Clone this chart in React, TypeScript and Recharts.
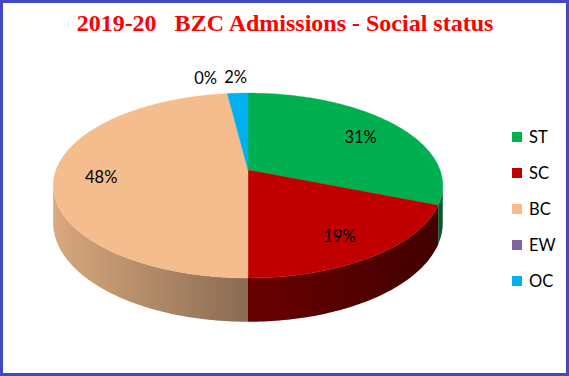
import React from 'react';
import { PieChart, Pie, Cell, Legend } from 'recharts';

const categories = ['ST', 'SC', 'BC', 'EW', 'OC'];
const shares = [31, 19, 48, 0, 2];
const topColors = ['#00B050', '#C00000', '#F5BD8D', '#8064A2', '#00B0F0'];
const wallColors = ['#005E2A', 'url(#wallSC)', 'url(#wallBC)', '#44345A', '#00607F'];
const titleText = '2019-20   BZC Admissions - Social status';

const data = categories.map((name, i) => ({ name, value: shares[i] }));

const TILT = 0.468;
const PERSP = 0.1676;
const DEPTH = 0.19;
const RAD = Math.PI / 180;

function proj(cx: number, cy: number, R: number, deg: number, f: number, h: number) {
  const s = Math.sin(deg * RAD);
  const c = Math.cos(deg * RAD);
  const z = 1 + PERSP * f * s;
  return [cx + (R * f * c) / z, cy - (R * TILT * f * s) / z + (h * R * DEPTH) / z];
}

function arc(cx: number, cy: number, R: number, a: number, b: number, h: number) {
  const n = Math.max(2, Math.ceil(Math.abs(b - a)));
  const pts: number[][] = [];
  for (let i = 0; i <= n; i++) pts.push(proj(cx, cy, R, a + ((b - a) * i) / n, 1, h));
  return pts;
}

const ptsStr = (pts: number[][]) => pts.map((q) => `${q[0].toFixed(2)},${q[1].toFixed(2)}`).join('L');

const TopSlice = (p: any) => {
  const { cx, cy, outerRadius, startAngle, endAngle, fill } = p;
  if (Math.abs(endAngle - startAngle) < 1e-6) return <g />;
  const pts = arc(cx, cy, outerRadius, startAngle, endAngle, 0);
  const d = `M${cx},${cy}L${ptsStr(pts)}Z`;
  return <path d={d} fill={fill} stroke={fill} strokeWidth={0.4} />;
};

const VS = Math.asin(PERSP) / RAD;

const WallSlice = (p: any) => {
  const { cx, cy, outerRadius, startAngle, endAngle, fill } = p;
  const lo = Math.min(startAngle, endAngle);
  const hi = Math.max(startAngle, endAngle);
  const paths: string[] = [];
  for (let k = -2; k <= 2; k++) {
    const a = Math.max(lo, -180 + VS + 360 * k);
    const b = Math.min(hi, -VS + 360 * k);
    if (b - a > 1e-6) {
      const top = arc(cx, cy, outerRadius, a, b, 0);
      const bot = arc(cx, cy, outerRadius, b, a, 1);
      paths.push(`M${ptsStr(top)}L${ptsStr(bot)}Z`);
    }
  }
  if (!paths.length) return <g />;
  return <path d={paths.join('')} fill={fill} stroke="none" />;
};

const total = shares.reduce((s, v) => s + v, 0);

const renderLabel = (p: any) => {
  const { cx, cy, outerRadius, midAngle, percent, index, endAngle } = p;
  const small = percent < 0.05;
  const f = small ? 1.25 : 0.76;
  let [x, y] = proj(cx, cy, outerRadius, midAngle, f, 0);
  if (!small) y += 3;
  if (small && index + 1 < shares.length && shares[index + 1] / total < 0.05) {
    const nextMid = endAngle - (360 * shares[index + 1]) / total / 2;
    const [nx] = proj(cx, cy, outerRadius, nextMid, f, 0);
    x = Math.min(x, nx - 30);
  }
  return (
    <text
      x={x}
      y={y}
      textAnchor="middle"
      dominantBaseline="central"
      fontFamily="Lato, 'Noto Sans', sans-serif"
      fontSize={16.5}
      fill="#000"
    >
      {`${Math.round(percent * 100)}%`}
    </text>
  );
};

const renderLegend = (props: any) => {
  const items = (props.payload || [])
    .filter((e: any) => e.type !== 'none')
    .slice()
    .sort((a: any, b: any) => categories.indexOf(a.value) - categories.indexOf(b.value));
  return (
    <div>
      {items.map((e: any, i: number) => (
        <div key={i} style={{ display: 'flex', alignItems: 'center', height: 36 }}>
          <span style={{ display: 'inline-block', width: 10, height: 10, background: e.color, marginRight: 7 }} />
          <span style={{ fontFamily: 'Lato, sans-serif', fontSize: 16.5, color: '#000', lineHeight: '20px' }}>
            {e.value}
          </span>
        </div>
      ))}
    </div>
  );
};

export default function App() {
  return (
    <div style={{ position: 'fixed', top: 0, left: 0, width: 569, height: 376, background: '#fff', overflow: 'hidden' }}>
      <svg width={0} height={0} style={{ position: 'absolute' }}>
        <defs>
          <linearGradient id="wallBC" x1="0" y1="0" x2="1" y2="0">
            <stop offset="0%" stopColor="#D9A87E" />
            <stop offset="100%" stopColor="#8A6B53" />
          </linearGradient>
          <linearGradient id="wallSC" x1="0" y1="0" x2="1" y2="0">
            <stop offset="0%" stopColor="#6A0000" />
            <stop offset="100%" stopColor="#420000" />
          </linearGradient>
        </defs>
      </svg>
      <div style={{ position: 'absolute', top: 0, left: 0 }}>
        <PieChart width={569} height={376} margin={{ top: 0, right: 0, bottom: 0, left: 0 }}>
          <Pie
            data={data}
            dataKey="value"
            nameKey="name"
            cx={248}
            cy={170}
            outerRadius={192}
            startAngle={90}
            endAngle={-270}
            stroke="none"
            legendType="none"
            isAnimationActive={false}
            shape={WallSlice}
          >
            {data.map((d, i) => (
              <Cell key={d.name} fill={wallColors[i]} />
            ))}
          </Pie>
          <Pie
            data={data}
            dataKey="value"
            nameKey="name"
            cx={248}
            cy={170}
            outerRadius={192}
            startAngle={90}
            endAngle={-270}
            stroke="none"
            legendType="square"
            isAnimationActive={false}
            shape={TopSlice}
            label={renderLabel}
            labelLine={false}
          >
            {data.map((d, i) => (
              <Cell key={d.name} fill={topColors[i]} />
            ))}
          </Pie>
          <Legend
            layout="vertical"
            align="right"
            verticalAlign="top"
            content={renderLegend}
            wrapperStyle={{ position: 'absolute', left: 512, top: 119, width: 50 }}
          />
        </PieChart>
      </div>
      <svg width={569} height={376} style={{ position: 'absolute', top: 0, left: 0, pointerEvents: 'none' }}>
        <text
          x={285}
          y={31}
          textAnchor="middle"
          xmlSpace="preserve"
          style={{ whiteSpace: 'pre' }}
          fontFamily="'Liberation Serif', 'Times New Roman', serif"
          fontWeight="bold"
          fontSize={24}
          fill="#FF0000"
        >
          {titleText}
        </text>
        <rect x={1.5} y={1.5} width={566} height={373} fill="none" stroke="#4347C9" strokeWidth={3} />
      </svg>
    </div>
  );
}
